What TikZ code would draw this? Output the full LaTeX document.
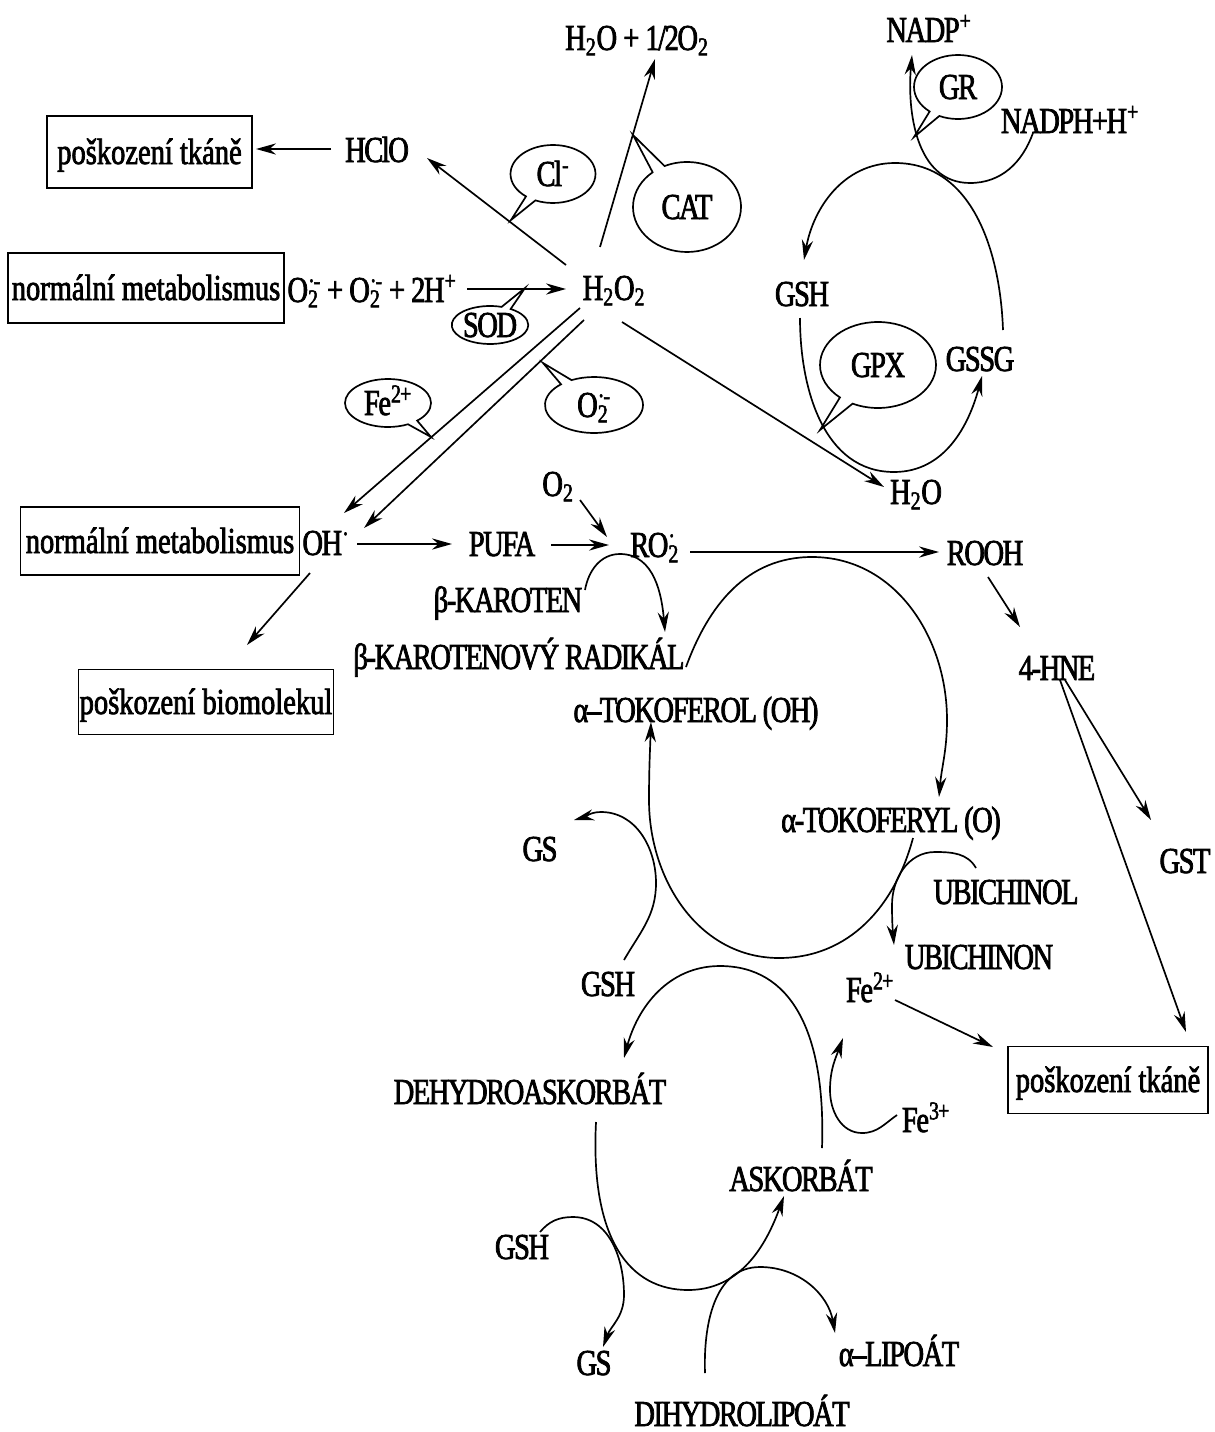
\documentclass[tikz,border=0pt]{standalone}
\usepackage{fontspec}
\setmainfont{Liberation Serif}[FakeStretch=0.78, FakeBold=2]
\newfontfamily\capsfont{Liberation Serif}[FakeStretch=0.78, LetterSpace=-4, FakeBold=2]
\usepackage{tikz}
\usetikzlibrary{positioning}
\usetikzlibrary{shapes}
\usetikzlibrary{arrows.meta}
\newcommand{\ionss}[2]{\makebox[0pt][l]{\textsubscript{#1}}\textsuperscript{#2}}
\tikzset{
  arr/.style = {-{Stealth[length=5mm, width=2.8mm]}, line width = 1.2},
  lbl/.style = {text centered, inner sep=0pt, text height=6mm, text depth=0pt, font=\fontsize{26}{30}\capsfont},
  rbox/.style = {lbl, rectangle, draw, line width = 1.2, font=\fontsize{26}{30}\rmfamily},
  bubble/.style = {lbl, ellipse callout, draw, line width = 1.2},
}

\begin{document}
\begin{tikzpicture}[x=0.25mm, y=-0.25mm]
    \useasboundingbox (0,0) rectangle (1214,1432);
    % nodes %
    \node[lbl] (h2oo2) at (637,38) {H\textsubscript{2}O\,+\,1/2O\textsubscript{2}};
    \node[lbl] (hclo) at (377,150) {HClO};
    \node[rbox, minimum width=51.25mm, minimum height=18mm] (tkan1) at (149.5,152) {poškození tkáně};
    \node[bubble, minimum width=21.25mm, minimum height=14.5mm, callout absolute pointer={(511,220)}] (cl) at (553,174) {Cl\textsuperscript{-}};
    \node[bubble, minimum width=27mm, minimum height=22.5mm, callout absolute pointer={(633,135)}] (cat) at (687,207) {CAT};
    \node[rbox, minimum width=69mm, minimum height=17.5mm] (norm1) at (146,288) {normální metabolismus};
    \node[lbl] (o2sum) at (372,290) {O\ionss{2}{·-}\,+\,O\ionss{2}{·-}\,+\,2H\textsuperscript{+}};
    \node[lbl] (h2o2) at (614,288) {H\textsubscript{2}O\textsubscript{2}};
    \node[bubble, minimum width=17.5mm, minimum height=9.5mm, callout absolute pointer={(525,288)}] (sod) at (490,325) {SOD};
    \node[bubble, minimum width=21.5mm, minimum height=12mm, callout absolute pointer={(431,437)}] (febub) at (388,403) {Fe\textsuperscript{2+}};
    \node[bubble, minimum width=24.5mm, minimum height=14mm, callout absolute pointer={(543,363)}] (o2bub) at (594,405) {O\ionss{2}{·-}};
    \node[lbl] (nadp) at (929,30) {NADP\textsuperscript{+}};
    \node[bubble, minimum width=22mm, minimum height=16mm, callout absolute pointer={(914,137)}] (gr) at (958,87) {GR};
    \node[lbl] (nadph) at (1070,121) {NADPH+H\textsuperscript{+}};
    \node[lbl] (gsh1) at (802,294) {GSH};
    \node[bubble, minimum width=29mm, minimum height=21.5mm, callout absolute pointer={(820,430)}] (gpx) at (878,365) {GPX};
    \node[lbl] (gssg) at (980,359) {GSSG};
    \node[lbl] (h2o) at (916,492) {H\textsubscript{2}O};
    \node[rbox, minimum width=69.75mm, minimum height=17mm] (norm2) at (160,541) {normální metabolismus};
    \node[lbl] (oh) at (326,543) {OH\textsuperscript{·}};
    \node[lbl] (pufa) at (502,544) {PUFA};
    \node[lbl] (o2) at (558,484) {O\textsubscript{2}};
    \node[lbl] (ro2) at (653,545) {RO\ionss{2}{·}};
    \node[lbl] (rooh) at (985,553) {ROOH};
    \node[lbl] (bkar) at (508,600) {β-KAROTEN};
    \node[lbl] (brad) at (519,657) {β-KAROTENOVÝ RADIKÁL};
    \node[rbox, minimum width=63.75mm, minimum height=16.25mm] (biom) at (206,702) {poškození biomolekul};
    \node[lbl] (atoh) at (696,710) {α–TOKOFEROL (OH)};
    \node[lbl] (hne) at (1057,668) {4-HNE};
    \node[lbl] (gst) at (1185,861) {GST};
    \node[lbl] (atoo) at (891,820) {α-TOKOFERYL (O)};
    \node[lbl] (ubiol) at (1006,892) {UBICHINOL};
    \node[lbl] (ubion) at (979,957) {UBICHINON};
    \node[lbl] (gs1) at (540,849) {GS};
    \node[lbl] (gsh2) at (608,984) {GSH};
    \node[lbl] (fe2) at (870,990) {Fe\textsuperscript{2+}};
    \node[lbl] (dehydro) at (530,1092) {DEHYDROASKORBÁT};
    \node[lbl] (fe3) at (926,1120) {Fe\textsuperscript{3+}};
    \node[lbl] (asko) at (801,1179) {ASKORBÁT};
    \node[rbox, minimum width=50mm, minimum height=16.75mm] (tkan2) at (1108,1080) {poškození tkáně};
    \node[lbl] (gsh3) at (522,1247) {GSH};
    \node[lbl] (gs2) at (594,1363) {GS};
    \node[lbl] (alip) at (899,1354) {α–LIPOÁT};
    \node[lbl] (dihyd) at (742,1414) {DIHYDROLIPOÁT};
    % edges %
    \draw[arr] ([shift={(-14,-41)}]h2o2.center) -- ([shift={(18,21)}]h2oo2.center);
    \draw[arr] ([shift={(-48,-23)}]h2o2.center) -- ([shift={(50,8)}]hclo.center);
    \draw[arr] ([shift={(-46,-1)}]hclo.center) -- ([shift={(106.5,-3)}]tkan1.center);
    \draw[arr] ([shift={(95,-1)}]o2sum.center) -- ([shift={(-48,1)}]h2o2.center);
    \draw[arr] ([shift={(-34,20)}]h2o2.center) -- ([shift={(18,-30)}]oh.center);
    \draw[arr] ([shift={(-30,32)}]h2o2.center) -- ([shift={(38,-15)}]oh.center);
    \draw[arr] ([shift={(8,34)}]h2o2.center) -- ([shift={(-32,-5)}]h2o.center);
    \draw[arr] ([shift={(22,16)}]o2.center) -- ([shift={(-46,-8)}]ro2.center);
    \draw[arr] ([shift={(31,1)}]oh.center) -- ([shift={(-50,0)}]pufa.center);
    \draw[arr] ([shift={(49,1)}]pufa.center) -- ([shift={(-44,0)}]ro2.center);
    \draw[arr] ([shift={(37,7)}]ro2.center) -- ([shift={(-46,-1)}]rooh.center);
    \draw[arr] ([shift={(-16,30)}]oh.center) -- ([shift={(41,-57)}]biom.center);
    \draw[arr] ([shift={(3,24)}]rooh.center) -- ([shift={(-37,-41)}]hne.center);
    \draw[arr] ([shift={(8,12)}]hne.center) -- ([shift={(-34,-41)}]gst.center);
    \draw[arr] ([shift={(3,12)}]hne.center) -- ([shift={(78,-48)}]tkan2.center);
    \draw[arr] ([shift={(25,10)}]fe2.center) -- ([shift={(-115,-33)}]tkan2.center);
    % cycles %
    \draw[arr] ([shift={(-37,12)}]nadph.center) [out=-110,in=0] to (970,183) [out=180,in=-95] to ([shift={(-17,25)}]nadp.center);
    \draw[arr] ([shift={(23,-29)}]gssg.center) [out=92,in=0] to (895,163) [out=180,in=80] to ([shift={(2,-34)}]gsh1.center);
    \draw[arr] ([shift={(-2,24)}]gsh1.center) [out=-90,in=180] to (894,472) [out=0,in=-105] to ([shift={(2,17)}]gssg.center);
    \draw[arr] ([shift={(77,-10)}]bkar.center) [out=80,in=180] to (620,554) [out=0,in=95] to ([shift={(146,-25)}]brad.center);
    \draw[arr] ([shift={(167,10)}]brad.center) [out=70,in=180] to (812,557) [out=0,in=90] to (947,720) [out=-90,in=85] to ([shift={(48,-23)}]atoo.center);
    \draw[arr] ([shift={(22,18)}]atoo.center) [out=-105,in=0] to (779,958) [out=180,in=-90] to (649,800) [out=90,in=-92] to ([shift={(-45,12)}]atoh.center);
    \draw[arr] ([shift={(-30,-24)}]ubiol.center) [out=120,in=0] to (935,852) [out=180,in=90] to (892,905) [out=-90,in=95] to ([shift={(-85,-12)}]ubion.center);
    \draw[arr] ([shift={(16,-24)}]gsh2.center) [out=60,in=-90] to (656,883) [out=90,in=0] to (601,812) [out=180,in=15] to ([shift={(34,-29)}]gs1.center);
    \draw[arr] ([shift={(21,-31)}]asko.center) .. controls (826,1030) and (790,966) .. (720,966) [out=180,in=75] to ([shift={(94,-34)}]dehydro.center);
    \draw[arr] ([shift={(-29,-5)}]fe3.center) [out=-145,in=0] to (862,1133) [out=180,in=-90] to (830,1090) [out=90,in=-110] to ([shift={(-27,48)}]fe2.center);
    \draw[arr] ([shift={(66,30)}]dehydro.center) .. controls (590,1240) and (630,1290) .. (688,1290) [out=0,in=-110] to ([shift={(-17,17)}]asko.center);
    \draw[arr] ([shift={(18,-15)}]gsh3.center) [out=50,in=180] to (573,1217) [out=0,in=90] to (624,1295) [out=-90,in=70] to ([shift={(9,-16)}]gs2.center);
    \draw[arr] ([shift={(-37,-41)}]dihyd.center) [out=92,in=180] to (760,1267) [out=0,in=100] to ([shift={(-64,-21)}]alip.center);
\end{tikzpicture}
\end{document}
